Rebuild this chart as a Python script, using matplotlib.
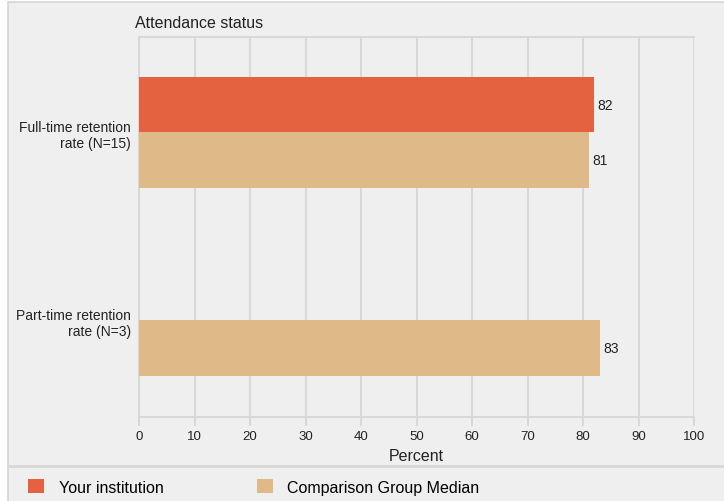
import numpy as np
import matplotlib
matplotlib.use("Agg")
import matplotlib.pyplot as plt
from matplotlib.patches import Rectangle, Patch
from matplotlib.lines import Line2D

plt.rcParams['font.family'] = ['Liberation Sans', 'DejaVu Sans']

# données
categories = ["Full-time retention\nrate (N=15)", "Part-time retention\nrate (N=3)"]
your_inst = [82, np.nan]
comparison = [81, 83]
series_names = ["Your institution", "Comparison Group Median"]
xticks = np.arange(0, 101, 10)

c_orange = "#e4623f"
c_tan = "#dfb987"
c_bg = "#efefef"
c_grid = "#d8d8d8"

W, H = 724, 502
fig = plt.figure(figsize=(W / 100, H / 100), dpi=100, facecolor="white")

# panneau gris avec bordure
fig.patches.append(Rectangle((7.5 / W, -0.01), 1.0, 1 - 3 / H + 0.01, transform=fig.transFigure,
                             facecolor=c_bg, edgecolor="#d4d4d4", linewidth=1.2, zorder=-10))
fig.lines.append(Line2D([7.5 / W, 1], [1 - 467 / H, 1 - 467 / H], transform=fig.transFigure,
                        color=c_grid, linewidth=2))

ax = fig.add_axes([139 / W, 1 - 418 / H, (694 - 139) / W, (418 - 38) / H])
ax.set_facecolor(c_bg)

y = np.arange(len(categories))
h = 0.296
b1 = ax.barh(y - h / 2, your_inst, height=h, color=c_orange, zorder=3)
b2 = ax.barh(y + h / 2, comparison, height=h, color=c_tan, zorder=3)
ax.bar_label(b1, labels=["%d" % v if not np.isnan(v) else "" for v in your_inst], padding=2.5, fontsize=10, color="#222222")
ax.bar_label(b2, labels=["%d" % v for v in comparison], padding=2.5, fontsize=10, color="#222222")

ax.set_xlim(0, 100)
ax.set_ylim(1.517, -0.509)
ax.set_xticks(xticks)
ax.set_yticks(y)
ax.set_yticklabels(categories, fontsize=10, multialignment="right")
ax.tick_params(axis="y", length=0, pad=6, colors="#222222")
ax.tick_params(axis="x", length=6.5, width=1.5, color=c_grid, pad=3, labelsize=9.5, labelcolor="#222222")
ax.grid(axis="x", color=c_grid, linewidth=1.5, zorder=0)
for s in ["left", "top", "bottom", "right"]:
    ax.spines[s].set_color(c_grid)
    ax.spines[s].set_linewidth(1.5)
ax.spines["right"].set_visible(False)
ax.set_xlabel("Percent", fontsize=11.5, labelpad=4, color="#222222")

fig.text(135 / W, 1 - 23 / H, "Attendance status", fontsize=11.5, va="center", ha="left", color="#222222")

handles = [Patch(facecolor=c_orange), Patch(facecolor=c_tan)]
fig.legend(handles, series_names, loc="center left", bbox_to_anchor=(22 / W, 1 - 488 / H), ncol=2,
           frameon=False, fontsize=11.5, handlelength=1.0, handleheight=1.0, handletextpad=0.9,
           columnspacing=5.85, borderaxespad=0)

plt.savefig("out.png", dpi=100, facecolor=fig.get_facecolor())
